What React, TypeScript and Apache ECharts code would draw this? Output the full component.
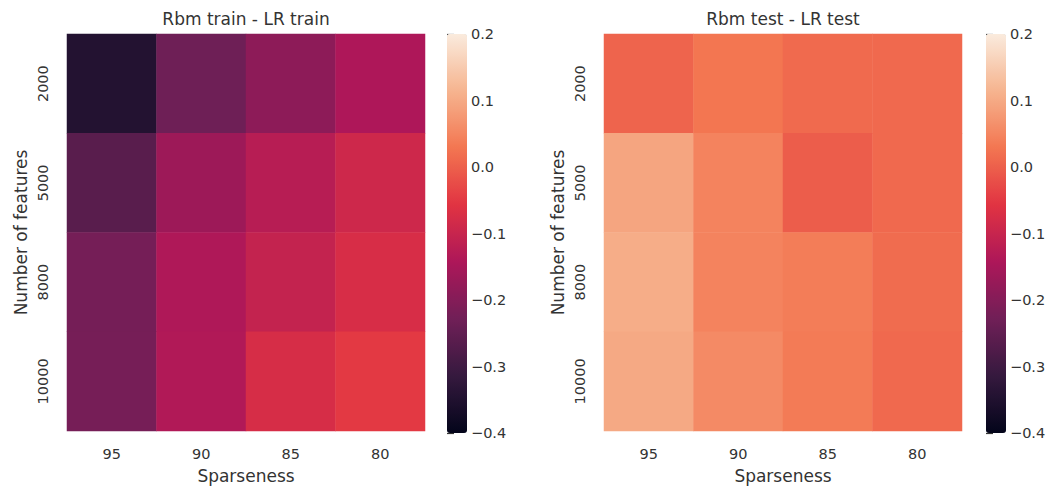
import React, { useEffect, useRef } from "react";
import * as echarts from "echarts";

const sparseness = ["95", "90", "85", "80"];
const features = ["2000", "5000", "8000", "10000"];

// rows: features (2000..10000), columns: sparseness (95..80)
const trainDiff = [
  [-0.345, -0.232, -0.188, -0.142],
  [-0.262, -0.166, -0.126, -0.09],
  [-0.222, -0.14, -0.106, -0.074],
  [-0.22, -0.136, -0.076, -0.05],
];
const testDiff = [
  [0.006, 0.028, 0.013, 0.012],
  [0.094, 0.046, -0.004, 0.012],
  [0.104, 0.046, 0.038, 0.016],
  [0.099, 0.056, 0.035, 0.012],
];

const titles = ["Rbm train - LR train", "Rbm test - LR test"];
const xName = "Sparseness";
const yName = "Number of features";
const colorMin = -0.4;
const colorMax = 0.2;
const colorStep = 0.1;
const rocket = ["#03051a", "#35193e", "#701f57", "#ad1759", "#e13342", "#f37651", "#f6b48f", "#faebdd"];

const FONT = "DejaVu Sans";
const TXT = "#333333";
const TICK_FS = 14.5;
const LABEL_FS = 17;

function toCells(m: number[][]) {
  const out: [number, number, number][] = [];
  m.forEach((row, yi) => row.forEach((v, xi) => out.push([xi, yi, v])));
  return out;
}

const fmt = (v: number) => {
  const r = Math.round(v * 10) / 10;
  if (Math.abs(r) < 1e-9) return "0.0";
  return (r < 0 ? "\u2212" : "") + Math.abs(r).toFixed(1);
};

export default function App() {
  const ref = useRef<HTMLDivElement>(null);
  useEffect(() => {
    if (!ref.current) return;
    const chart = echarts.init(ref.current, undefined, { renderer: "svg" });
    const panels = [
      { left: 67, cb: 447, data: trainDiff, title: titles[0] },
      { left: 604, cb: 986, data: testDiff, title: titles[1] },
    ];
    const top = 34;
    const h = 399;
    const w = 358;
    const grid: any[] = [];
    const xAxis: any[] = [];
    const yAxis: any[] = [];
    const series: any[] = [];
    const visualMap: any[] = [];
    const graphic: any[] = [];
    panels.forEach((p, i) => {
      const gi = grid.length;
      grid.push({ left: p.left, top, width: w, height: h });
      grid.push({ left: p.cb, top, width: 20, height: h });
      xAxis.push({
        gridIndex: gi,
        type: "category",
        data: sparseness,
        axisLine: { show: false },
        axisTick: { show: false },
        splitLine: { show: false },
        axisLabel: { margin: 15, fontSize: TICK_FS, color: TXT, fontFamily: FONT },
        name: xName,
        nameLocation: "middle",
        nameGap: 36,
        nameTextStyle: { fontSize: LABEL_FS, color: TXT, fontFamily: FONT },
      });
      xAxis.push({ gridIndex: gi + 1, type: "value", show: false });
      yAxis.push({
        gridIndex: gi,
        type: "category",
        data: features,
        inverse: true,
        axisLine: { show: false },
        axisTick: { show: false },
        splitLine: { show: false },
        axisLabel: { rotate: 90, margin: 17, fontSize: TICK_FS, color: TXT, fontFamily: FONT },
        name: yName,
        nameLocation: "middle",
        nameGap: 38,
        nameTextStyle: { fontSize: LABEL_FS, color: TXT, fontFamily: FONT },
      });
      yAxis.push({
        gridIndex: gi + 1,
        type: "value",
        min: colorMin,
        max: colorMax,
        interval: colorStep,
        position: "right",
        axisLine: { show: false },
        axisTick: { show: true, length: 7, lineStyle: { color: TXT, width: 1.2 } },
        splitLine: { show: false },
        axisLabel: { margin: 4, fontSize: TICK_FS, color: TXT, fontFamily: FONT, formatter: fmt },
      });
      series.push({
        type: "heatmap",
        xAxisIndex: gi,
        yAxisIndex: gi,
        data: toCells(p.data),
        itemStyle: { borderWidth: 0 },
      });
      visualMap.push({
        type: "continuous",
        seriesIndex: i,
        min: colorMin,
        max: colorMax,
        left: p.cb,
        top,
        itemWidth: 20,
        itemHeight: h,
        padding: 0,
        calculable: false,
        hoverLink: false,
        inRange: { color: rocket },
      });
      graphic.push({
        type: "text",
        x: p.left + w / 2,
        y: 19,
        style: {
          text: p.title,
          fontSize: LABEL_FS,
          fontFamily: FONT,
          fill: TXT,
          textAlign: "center",
          textVerticalAlign: "middle",
        },
      });
    });
    chart.setOption({
      animation: false,
      backgroundColor: "#ffffff",
      grid,
      xAxis,
      yAxis,
      series,
      visualMap,
      graphic,
    });
    return () => chart.dispose();
  }, []);
  return (
    <div
      ref={ref}
      style={{ position: "fixed", left: 0, top: 0, width: 1061, height: 489, background: "#fff" }}
    />
  );
}
